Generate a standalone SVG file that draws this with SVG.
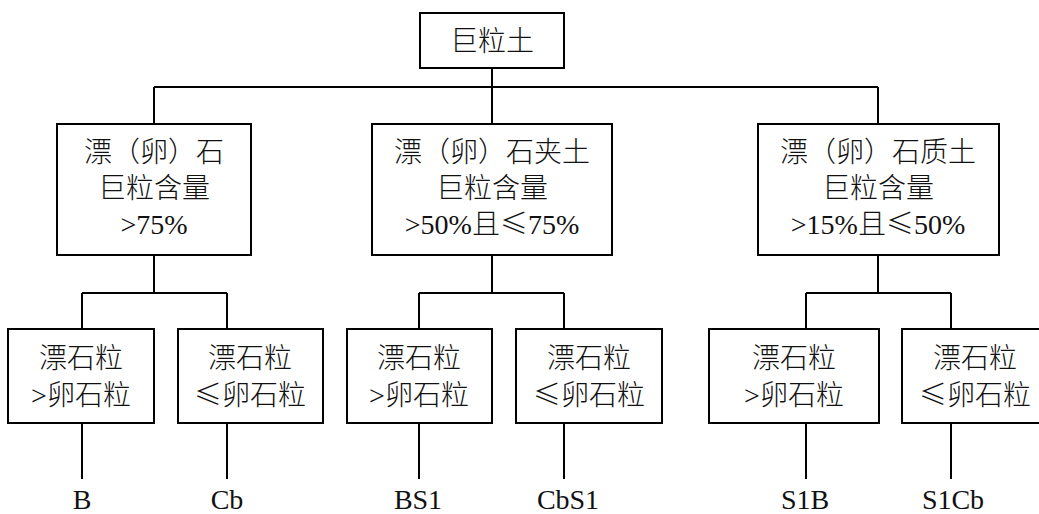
<svg xmlns="http://www.w3.org/2000/svg" width="1039" height="514" viewBox="0 0 1039 514">
<style>
.box{fill:#fff;stroke:#000;stroke-width:2}
.ln{stroke:#000;stroke-width:2;fill:none}
text{font-family:"Liberation Serif","Noto Sans CJK SC",serif;font-size:28px;font-weight:300;fill:#111;text-anchor:middle}
.cj{font-family:"Noto Sans CJK SC",sans-serif}
</style>
<rect width="1039" height="514" fill="#fff"/>
<g id="connectors">
<path class="ln" d="M492 68V87M154 87H878M154 87V124M492 87V124M878 87V124"/>
<path class="ln" d="M154 255V293M82 293H227M82 293V329M227 293V329"/>
<path class="ln" d="M492 255V293M419 293H564M419 293V329M564 293V329"/>
<path class="ln" d="M878 255V293M806 293H951M806 293V329M951 293V329"/>
<path class="ln" d="M82 423V479M227 423V479M419 423V479M564 423V479M806 423V479M951 423V479"/>
</g>
<g id="root">
<rect class="box" x="420" y="13" width="144" height="55"/>
<text x="492" y="51">巨粒土</text>
</g>
<g id="n1">
<rect class="box" x="57" y="124" width="194" height="131"/>
<text x="154" y="162">漂（卵）石</text>
<text x="154" y="198">巨粒含量</text>
<text x="154" y="234">&gt;75%</text>
</g>
<g id="n2">
<rect class="box" x="372" y="124" width="240" height="131"/>
<text x="492" y="162">漂（卵）石夹土</text>
<text x="492" y="198">巨粒含量</text>
<text x="492" y="234">&gt;50%且<tspan class="cj">≤</tspan>75%</text>
</g>
<g id="n3">
<rect class="box" x="758" y="124" width="241" height="131"/>
<text x="878" y="162">漂（卵）石质土</text>
<text x="878" y="198">巨粒含量</text>
<text x="878" y="234">&gt;15%且<tspan class="cj">≤</tspan>50%</text>
</g>
<g id="l1">
<rect class="box" x="8" y="329" width="146" height="94"/>
<text x="81" y="368">漂石粒</text>
<text x="81" y="405">&gt;卵石粒</text>
</g>
<g id="l2">
<rect class="box" x="178" y="329" width="145" height="94"/>
<text x="250" y="368">漂石粒</text>
<text x="250" y="405"><tspan class="cj">≤</tspan>卵石粒</text>
</g>
<g id="l3">
<rect class="box" x="347" y="329" width="145" height="94"/>
<text x="419" y="368">漂石粒</text>
<text x="419" y="405">&gt;卵石粒</text>
</g>
<g id="l4">
<rect class="box" x="516" y="329" width="146" height="94"/>
<text x="589" y="368">漂石粒</text>
<text x="589" y="405"><tspan class="cj">≤</tspan>卵石粒</text>
</g>
<g id="l5">
<rect class="box" x="709" y="329" width="170" height="94"/>
<text x="794" y="368">漂石粒</text>
<text x="794" y="405">&gt;卵石粒</text>
</g>
<g id="l6">
<rect class="box" x="902" y="329" width="146" height="94"/>
<text x="975" y="368">漂石粒</text>
<text x="975" y="405"><tspan class="cj">≤</tspan>卵石粒</text>
</g>
<g id="labels">
<text x="82" y="509">B</text>
<text x="227" y="509">Cb</text>
<text x="418" y="509">BS1</text>
<text x="568" y="509">CbS1</text>
<text x="805" y="509">S1B</text>
<text x="953" y="509">S1Cb</text>
</g>
</svg>
